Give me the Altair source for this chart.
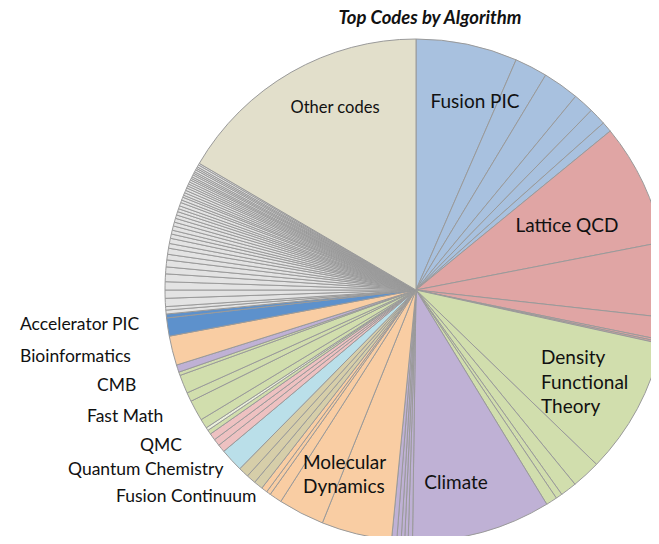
import altair as alt
import pandas as pd

# Slice shares (degrees of the pie, clockwise from 12 o'clock)
fusion_pic = [23.5, 7.6, 8.4, 4.8, 4.0, 2.4]
lattice_qcd = [28.3, 17.3, 5.2, 0.5, 0.4]
density_functional = [31.6, 6.7, 3.8, 1.5, 2.6]
climate = [32.2, 1.0, 0.8, 0.8, 1.0, 1.2]
molecular_dynamics = [16.3, 10.7, 2.9, 1.0, 1.4]
fusion_continuum = [2.1, 2.2, 2.4]
quantum_chemistry = [5.4]
qmc = [1.8, 1.6, 1.6]
fast_math_a = [1.0]
fast_math_light = [0.7]
fast_math_b = [2.2, 4.8, 2.1]
cmb = [4.3, 0.8]
misc_purple = [1.7]
bioinformatics = [6.8]
accelerator_pic = [4.2, 0.9]
small_codes = [0.9, 0.8, 1.9, 1.9, 1.9, 1.8, 1.6, 1.6, 1.3, 1.4, 1.1, 1.2, 1.0, 0.9,
               1.0, 0.9, 0.9, 0.8, 0.8, 0.7, 0.7, 0.8, 0.6, 0.7, 0.5, 0.6, 0.6, 0.6,
               0.5, 0.5, 0.5, 0.5, 0.4, 0.4, 0.5, 0.4, 0.4, 0.5, 0.4, 0.4, 0.5, 0.4]
other_codes = [59.7]

sequence = [
    ("Fusion PIC", fusion_pic),
    ("Lattice QCD", lattice_qcd),
    ("Density Functional Theory", density_functional),
    ("Climate", climate),
    ("Molecular Dynamics", molecular_dynamics),
    ("Fusion Continuum", fusion_continuum),
    ("Quantum Chemistry", quantum_chemistry),
    ("QMC", qmc),
    ("Fast Math", fast_math_a),
    ("Fast Math (light)", fast_math_light),
    ("Fast Math", fast_math_b),
    ("CMB", cmb),
    ("Misc", misc_purple),
    ("Bioinformatics", bioinformatics),
    ("Accelerator PIC", accelerator_pic),
    ("Small codes", small_codes),
    ("Other codes", other_codes),
]

group_colors = {
    "Fusion PIC": "#A8C1DF",
    "Lattice QCD": "#E0A5A4",
    "Density Functional Theory": "#D1DEAD",
    "Climate": "#BFB1D5",
    "Molecular Dynamics": "#F9CDA3",
    "Fusion Continuum": "#D6CEA9",
    "Quantum Chemistry": "#BADFE9",
    "QMC": "#EEC1C1",
    "Fast Math": "#D1DEAD",
    "Fast Math (light)": "#EBF0DC",
    "CMB": "#D1DEAD",
    "Misc": "#BFB1D5",
    "Bioinformatics": "#F9CDA3",
    "Accelerator PIC": "#5D91CC",
    "Small codes": "#E3E3E3",
    "Other codes": "#E2DFCB",
}

rows = []
for group, values in sequence:
    for v in values:
        rows.append({"idx": len(rows), "group": group, "share": v})
df = pd.DataFrame(rows)

# Pie center / radius (layout)
CX, CY, R = 408, 282, 251

pie = alt.Chart(df).mark_arc(
    outerRadius=R, stroke="#9A9A9A", strokeWidth=1
).encode(
    theta=alt.Theta("share:Q", stack=True),
    order=alt.Order("idx:Q"),
    color=alt.Color("group:N",
                    scale=alt.Scale(domain=list(group_colors.keys()),
                                    range=list(group_colors.values())),
                    legend=None),
    x=alt.value(CX),
    y=alt.value(CY),
)

# Annotation text (layout positions kept separate from data)
inside_labels = pd.DataFrame([
    {"text": "Fusion PIC", "px": 467, "py": 94, "al": "center"},
    {"text": "Lattice QCD", "px": 559, "py": 218, "al": "center"},
    {"text": "Density", "px": 533, "py": 350, "al": "left"},
    {"text": "Functional", "px": 533, "py": 375, "al": "left"},
    {"text": "Theory", "px": 533, "py": 399, "al": "left"},
    {"text": "Climate", "px": 448, "py": 475, "al": "center"},
    {"text": "Molecular", "px": 295, "py": 455, "al": "left"},
    {"text": "Dynamics", "px": 295, "py": 479, "al": "left"},
])
other_label = pd.DataFrame([{"text": "Other codes", "px": 327, "py": 100}])
outside_labels = pd.DataFrame([
    {"text": "Accelerator PIC", "px": 12, "py": 317},
    {"text": "Bioinformatics", "px": 12, "py": 349},
    {"text": "CMB", "px": 89, "py": 378},
    {"text": "Fast Math", "px": 79, "py": 409},
    {"text": "QMC", "px": 132, "py": 438},
    {"text": "Quantum Chemistry", "px": 60, "py": 462},
    {"text": "Fusion Continuum", "px": 108, "py": 489},
])

def text_layer(data, size, align):
    return alt.Chart(data).mark_text(
        font="Lato", fontSize=size, color="#111111", align=align, baseline="middle"
    ).encode(
        x=alt.X("px:Q", scale=None, axis=None),
        y=alt.Y("py:Q", scale=None, axis=None),
        text="text:N",
    )

inside_center = text_layer(inside_labels[inside_labels.al == "center"], 19, "center")
inside_left = text_layer(inside_labels[inside_labels.al == "left"], 19, "left")
other_text = text_layer(other_label, 16.5, "center")
outside = text_layer(outside_labels, 17.5, "left")

title = alt.Chart(pd.DataFrame({"t": ["Top Codes by Algorithm"]})).mark_text(
    font="Lato", fontSize=18.5, fontWeight="bold", fontStyle="italic",
    color="#111111", align="center", baseline="top"
).encode(
    x=alt.value(422),
    y=alt.value(1),
    text="t:N",
)

chart = alt.layer(pie, inside_center, inside_left, other_text, outside, title).properties(
    width=643, height=528, autosize="none", padding=0
).configure_view(stroke=None)

chart.save("out.html", embed_options={"renderer": "svg", "actions": False})
